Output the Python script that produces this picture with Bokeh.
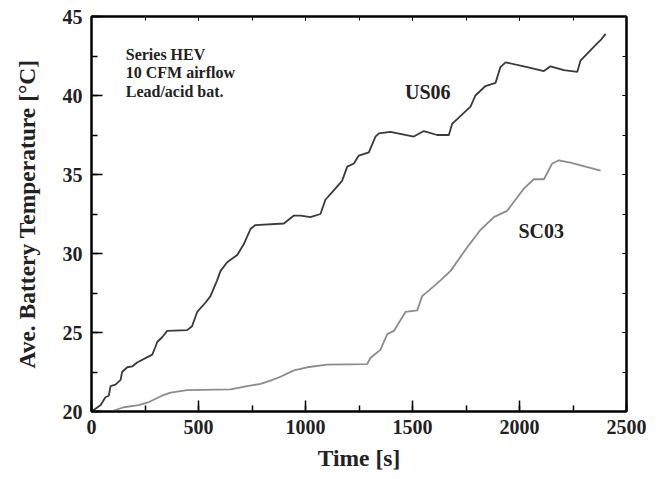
from bokeh.plotting import figure
from bokeh.models import LinearAxis, Label, Range1d, SingleIntervalTicker, CustomJSTickFormatter
from bokeh.embed import file_html
from bokeh.resources import INLINE

# US06 drive cycle (dark curve)
us06_t = [0, 42, 65, 81, 89, 112, 136, 143, 167, 190, 213, 284, 299, 307, 330, 354, 447, 470,
          494, 533, 556, 587, 603, 634, 681, 712, 743, 766, 899, 946, 977, 1023, 1070, 1093,
          1132, 1171, 1195, 1226, 1249, 1296, 1327, 1343, 1397, 1506, 1553, 1615, 1670, 1685,
          1771, 1794, 1841, 1888, 1911, 1935, 2036, 2114, 2145, 2207, 2270, 2285, 2363, 2379,
          2402]
us06_T = [20.0, 20.4, 20.9, 21.0, 21.6, 21.7, 22.0, 22.5, 22.8, 22.85, 23.1, 23.6, 24.1, 24.4,
          24.7, 25.1, 25.15, 25.4, 26.3, 26.9, 27.3, 28.3, 28.9, 29.45, 29.9, 30.6, 31.55, 31.8,
          31.9, 32.4, 32.4, 32.3, 32.5, 33.4, 34.0, 34.6, 35.5, 35.7, 36.2, 36.4, 37.4, 37.6,
          37.7, 37.4, 37.75, 37.5, 37.5, 38.2, 39.3, 40.0, 40.6, 40.8, 41.8, 42.1, 41.8, 41.55,
          41.85, 41.6, 41.5, 42.2, 43.3, 43.5, 43.9]

# SC03 drive cycle (grey curve)
sc03_t = [0, 89, 151, 221, 268, 330, 369, 447, 650, 727, 790, 836, 883, 946, 1008, 1101,
          1288, 1304, 1350, 1382, 1413, 1467, 1522, 1545, 1576, 1631, 1678, 1756, 1818, 1880,
          1942, 1981, 2020, 2067, 2114, 2153, 2184, 2238, 2379]
sc03_T = [20.0, 20.0, 20.27, 20.4, 20.6, 21.0, 21.2, 21.35, 21.4, 21.6, 21.75, 21.95, 22.2,
          22.6, 22.8, 22.97, 23.0, 23.4, 23.9, 24.9, 25.1, 26.3, 26.4, 27.3, 27.65, 28.3, 28.9,
          30.4, 31.5, 32.3, 32.7, 33.4, 34.1, 34.7, 34.7, 35.7, 35.9, 35.75, 35.25]

FONT = "Liberation Serif"

p = figure(width=650, height=479, output_backend="svg", toolbar_location=None,
           x_range=Range1d(0, 2500), y_range=Range1d(20, 45),
           min_border_left=91, min_border_right=24, min_border_top=16, min_border_bottom=68)
p.grid.visible = False
p.outline_line_color = "black"
p.outline_line_width = 2

p.line(us06_t, us06_T, line_color="#3a3a3a", line_width=1.8)
p.line(sc03_t, sc03_T, line_color="#8c8c8c", line_width=1.8)

def style_main(ax, interval):
    ax.ticker = SingleIntervalTicker(interval=interval, num_minor_ticks=2)
    ax.axis_line_width = 2
    ax.major_tick_in = 11
    ax.major_tick_out = 0
    ax.minor_tick_in = 6
    ax.minor_tick_out = 0
    ax.major_tick_line_width = 1.5
    ax.minor_tick_line_width = 1.5
    ax.major_label_text_font = FONT
    ax.major_label_text_font_style = "bold"
    ax.major_label_text_font_size = "20px"
    ax.major_label_text_color = "#222222"
    ax.axis_label_text_font = FONT
    ax.axis_label_text_font_style = "bold"
    ax.axis_label_text_font_size = "23.5px"
    ax.axis_label_text_color = "#222222"

style_main(p.xaxis[0], 500)
style_main(p.yaxis[0], 5)
p.xaxis[0].axis_label = "Time [s]"
p.yaxis[0].axis_label = "Ave. Battery Temperature [°C]"
p.xaxis[0].major_label_standoff = 8
p.yaxis[0].major_label_standoff = 9
p.xaxis[0].axis_label_standoff = 8
p.yaxis[0].axis_label_standoff = 20

for loc, interval in (("above", 500), ("right", 5)):
    ax = LinearAxis(ticker=SingleIntervalTicker(interval=interval, num_minor_ticks=2),
                    formatter=CustomJSTickFormatter(code="return ''"))
    ax.axis_line_width = 2
    ax.major_tick_in = 4
    ax.major_tick_out = 0
    ax.minor_tick_in = 4
    ax.minor_tick_out = 0
    ax.major_label_standoff = 0
    ax.major_label_text_font_size = "0px"
    p.add_layout(ax, loc)

notes = ["Series HEV", "10 CFM airflow", "Lead/acid bat."]
note_y = [42.6, 41.45, 40.25]
for txt, yy in zip(notes, note_y):
    p.add_layout(Label(x=160, y=yy, text=txt, text_font=FONT, text_font_style="bold",
                       text_font_size="16px", text_color="#222222", text_baseline="middle"))

p.add_layout(Label(x=1465, y=40.2, text="US06", text_font=FONT, text_font_style="bold",
                   text_font_size="20px", text_color="#222222", text_baseline="middle"))
p.add_layout(Label(x=1995, y=31.45, text="SC03", text_font=FONT, text_font_style="bold",
                   text_font_size="20px", text_color="#222222", text_baseline="middle"))

open("out.html", "w").write(file_html(p, INLINE))
